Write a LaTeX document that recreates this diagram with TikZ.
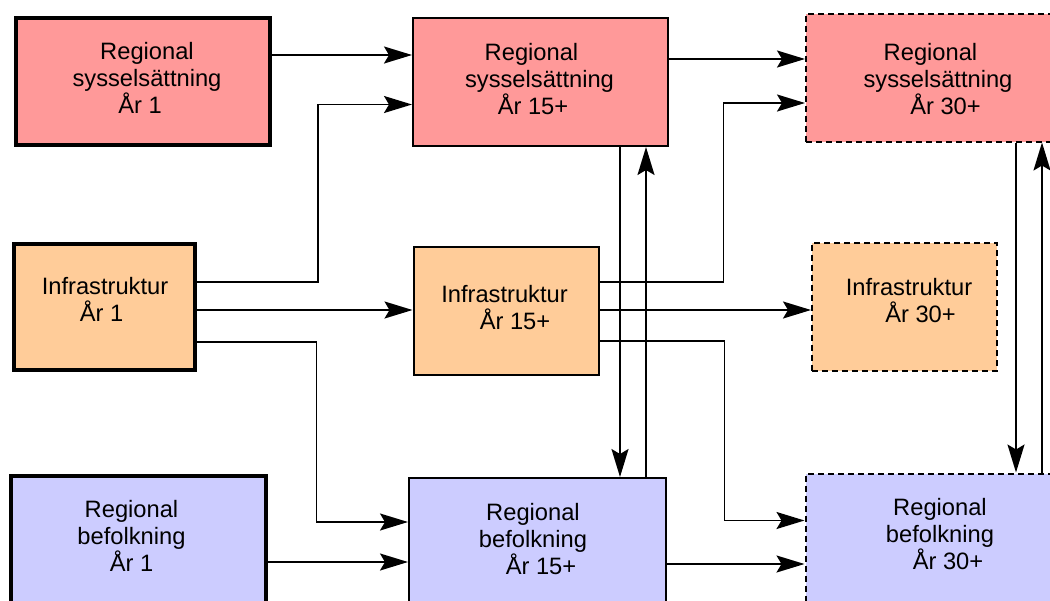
\documentclass[tikz,border=0pt]{standalone}
\usepackage{fontspec}
\setmainfont{Liberation Sans}
\usetikzlibrary{arrows.meta}
\definecolor{sysc}{HTML}{FF9999}
\definecolor{infc}{HTML}{FFCC99}
\definecolor{befc}{HTML}{CCCCFF}
\newcommand\shr[2]{\hbox{\kern#1 #2}}
\newcommand\shl[2]{\hbox{#2\kern#1}}
\tikzset{
  box/.style={rectangle, inner sep=0pt, minimum width=#1},
  thickbox/.style={box=#1, draw=black, line width=4pt, minimum height=127pt},
  thinbox/.style={box=#1, draw=black, line width=2pt, minimum height=128pt},
  dashbox/.style={box=#1, draw=black, line width=2pt, dash pattern=on 6pt off 4pt, minimum height=128pt},
  txt/.style={inner sep=0pt, align=center, font=\fontsize{23.7pt}{27pt}\selectfont},
  arr/.style={line width=1.9pt, -{Stealth[length=28pt,width=17pt,inset=5pt]}},
  ln/.style={line width=1.9pt}
}
\begin{document}
\begin{tikzpicture}[x=1pt,y=-1pt]
\useasboundingbox (0,0) rectangle (1050,600);
\clip (0,0) rectangle (1050,600);
% boxes
\node[thickbox=254pt, fill=sysc] (a1) at (143,81.5) {};
\node[thinbox=255pt, fill=sysc] (a15) at (540.5,82) {};
\node[dashbox=255pt, fill=sysc] (a30) at (933.5,77.5) {};
\node[thickbox=181pt, minimum height=126pt, fill=infc] (i1) at (104.5,307) {};
\node[thinbox=185pt, fill=infc] (i15) at (506,310.5) {};
\node[dashbox=185pt, fill=infc] (i30) at (904.5,306.5) {};
\node[thickbox=255pt, fill=befc] (b1) at (138.7,539) {};
\node[thinbox=257pt, fill=befc] (b15) at (537.5,542) {};
\node[dashbox=255pt, fill=befc] (b30) at (933,537.5) {};
% texts
\node[txt] (a1t) at (147,78.4) {Regional\\sysselsättning\\\shl{14pt}{År 1}};
\node[txt] (a15t) at (539.5,79.4) {\shl{16pt}{Regional}\\sysselsättning\\\shl{13pt}{År 15+}};
\node[txt] (a30t) at (938,79.4) {\shl{15pt}{Regional}\\sysselsättning\\\shr{15pt}{År 30+}};
\node[txt] (i1t) at (105,299.9) {Infrastruktur\\\shl{7pt}{År 1}};
\node[txt] (i15t) at (504.5,307.5) {Infrastruktur\\\shr{21pt}{År 15+}};
\node[txt] (i30t) at (909,301) {Infrastruktur\\\shr{23pt}{År 30+}};
\node[txt] (b1t) at (131.5,536.4) {Regional\\befolkning\\År 1};
\node[txt] (b15t) at (533,539.4) {Regional\\befolkning\\\shr{16pt}{År 15+}};
\node[txt] (b30t) at (940,534.4) {Regional\\befolkning\\\shr{16pt}{År 30+}};
% connectors column 1 -> 2
\draw[arr] (a1.east |- 0,55) -- (a15.west |- 0,55);
\draw[arr] (i1.east |- 0,282) -| (318,104.5) -- (a15.west |- 0,104.5);
\draw[arr] (i1.east |- 0,310) -- (i15.west |- 0,310);
\draw[arr] (i1.east |- 0,342) -| (316.5,522) -- (b15.west |- 0,522);
\draw[arr] (b1.east |- 0,562) -- (b15.west |- 0,562);
% connectors column 2 -> 3
\draw[arr] (a15.east |- 0,59) -- (a30.west |- 0,59);
\draw[arr] (i15.east |- 0,282) -| (723.5,103) -- (a30.west |- 0,103);
\draw[arr] (i15.east |- 0,310) -- (i30.west |- 0,310);
\draw[arr] (i15.east |- 0,341) -| (724.5,520.5) -- (b30.west |- 0,520.5);
\draw[arr] (b15.east |- 0,564) -- (b30.west |- 0,564);
% vertical
\draw[arr] (a15.south -| 620,0) -- (b15.north -| 620,0);
\draw[arr] (b15.north -| 646,0) -- (a15.south -| 646,0);
\draw[arr] (a30.south -| 1016,0) -- (b30.north -| 1016,0);
\draw[arr] (b30.north -| 1042,0) -- (a30.south -| 1042,0);
\end{tikzpicture}
\end{document}
